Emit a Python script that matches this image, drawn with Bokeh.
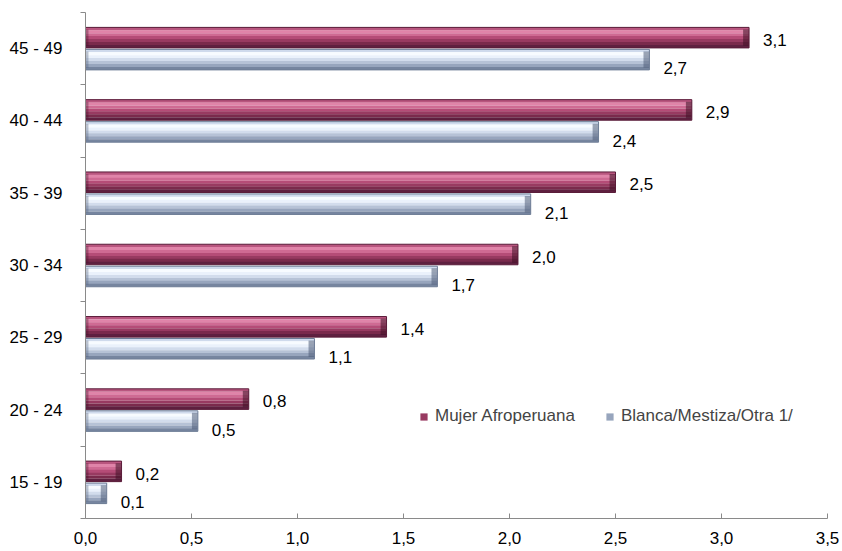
from bokeh.plotting import figure
from bokeh.models import ColumnDataSource, Range1d, FixedTicker, Legend, LegendItem
from bokeh.embed import file_html
from bokeh.resources import INLINE
from bokeh.core.properties import value

# ---- data ----
age_groups = ["15 - 19", "20 - 24", "25 - 29", "30 - 34", "35 - 39", "40 - 44", "45 - 49"]
afro = [0.17, 0.77, 1.42, 2.04, 2.50, 2.86, 3.13]
blanca = [0.10, 0.53, 1.08, 1.66, 2.10, 2.42, 2.66]
series_names = ["Mujer Afroperuana", "Blanca/Mestiza/Otra 1/"]
x_ticks = [0.0, 0.5, 1.0, 1.5, 2.0, 2.5, 3.0, 3.5]
x_tick_labels = ["0,0", "0,5", "1,0", "1,5", "2,0", "2,5", "3,0", "3,5"]

FONT = "Liberation Sans"
FS = "17px"
AXIS_COLOR = "#8a8a8a"
BAR_H = 0.284
OFF = 0.152
CAP = 0.028

idx = list(range(len(age_groups)))

p = figure(width=842, height=551, x_range=Range1d(0, 3.5), y_range=Range1d(-0.5, 6.5),
           output_backend="svg", toolbar_location=None,
           min_border_left=85, min_border_right=15, min_border_top=12, min_border_bottom=33)
p.outline_line_color = None
p.xgrid.visible = False
p.ygrid.visible = False

purple_bands = ["#b9567f", "#e084a9", "#cf6a93", "#b54c77", "#983a61", "#7a2a4c", "#5f2040"]
blue_bands = ["#cfdaec", "#f7fbff", "#eaf1fb", "#d2dcec", "#b6c2d6", "#97a5bd", "#76859f"]


def draw_series(vals, center_off, colors, edge, cap_color, legend_band):
    n = len(colors)
    bh = BAR_H / n
    main = None
    for k, c in enumerate(colors):
        off = center_off + BAR_H / 2 - bh * (k + 0.5)
        src = ColumnDataSource(dict(y=[i + off for i in idx], right=vals))
        r = p.hbar(y="y", right="right", left=0, height=bh * 1.05, source=src,
                   fill_color=c, line_color=None)
        if k == legend_band:
            main = r
    ys = [i + center_off for i in idx]
    # darker bevel caps at both ends of each bar
    cap_src = ColumnDataSource(dict(y=ys, left=[max(v - CAP, 0) for v in vals], right=vals))
    p.hbar(y="y", left="left", right="right", height=BAR_H * 0.8, source=cap_src,
           fill_color=cap_color, fill_alpha=0.55, line_color=None)
    lcap_src = ColumnDataSource(dict(y=ys, right=[min(CAP * 0.5, v) for v in vals]))
    p.hbar(y="y", left=0, right="right", height=BAR_H * 0.8, source=lcap_src,
           fill_color=cap_color, fill_alpha=0.35, line_color=None)
    src = ColumnDataSource(dict(y=ys, right=vals))
    p.hbar(y="y", right="right", left=0, height=BAR_H, source=src,
           fill_color=None, line_color=edge, line_width=1)
    return main


r_afro = draw_series(afro, OFF, purple_bands, "#5a1c39", "#3e0f25", 4)
r_blanca = draw_series(blanca, -OFF, blue_bands, "#6e7d96", "#4e5d78", 5)


def fmt(v):
    return f"{v:.1f}".replace(".", ",")


p.text(x=afro, y=[i + OFF - 0.03 for i in idx], text=[fmt(v) for v in afro],
       x_offset=14, text_baseline="middle", text_align="left",
       text_font=value(FONT), text_font_size=FS, text_color="black")
p.text(x=blanca, y=[i - OFF - 0.12 for i in idx], text=[fmt(v) for v in blanca],
       x_offset=14, text_baseline="middle", text_align="left",
       text_font=value(FONT), text_font_size=FS, text_color="black")

# x axis
xa = p.xaxis[0]
xa.ticker = FixedTicker(ticks=x_ticks)
xa.major_label_overrides = {t: l for t, l in zip(x_ticks, x_tick_labels)}
xa.major_tick_in = 5
xa.major_tick_out = 0
xa.minor_tick_in = 0
xa.minor_tick_out = 0
xa.axis_line_color = AXIS_COLOR
xa.major_tick_line_color = AXIS_COLOR
xa.major_label_text_font = FONT
xa.major_label_text_font_size = FS
xa.major_label_text_color = "black"
xa.major_label_standoff = 13

# y axis
ya = p.yaxis[0]
ya.ticker = FixedTicker(ticks=idx, minor_ticks=[i - 0.5 for i in range(len(idx) + 1)])
ya.major_label_overrides = {i: g for i, g in zip(idx, age_groups)}
ya.major_tick_in = 0
ya.major_tick_out = 0
ya.minor_tick_in = 0
ya.minor_tick_out = 5
ya.axis_line_color = AXIS_COLOR
ya.minor_tick_line_color = AXIS_COLOR
ya.major_label_text_font = FONT
ya.major_label_text_font_size = FS
ya.major_label_text_color = "black"
ya.major_label_standoff = 18

legend = Legend(items=[LegendItem(label=series_names[0], renderers=[r_afro]),
                       LegendItem(label=series_names[1], renderers=[r_blanca])],
                orientation="horizontal", location=(334, 92),
                background_fill_alpha=0, border_line_color=None,
                glyph_width=9, glyph_height=9, label_standoff=7, spacing=30,
                padding=0, margin=0,
                label_text_font=FONT, label_text_font_size=FS)
p.add_layout(legend)

open("out.html", "w").write(file_html(p, INLINE))
